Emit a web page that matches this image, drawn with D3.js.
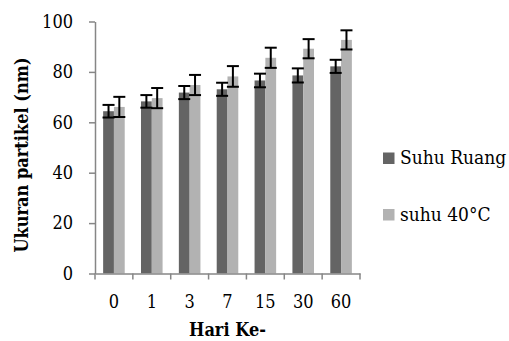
<!DOCTYPE html>
<meta charset="utf-8">
<script src="https://cdn.jsdelivr.net/npm/d3@7"></script>
<style>
  body { margin: 0; background: #fff; }
  text { font-family: "DejaVu Serif Condensed", "DejaVu Serif", serif; font-stretch: condensed; fill: #000; }
</style>
<div id="chart"></div>
<script>
// data
const days = ["0", "1", "3", "7", "15", "30", "60"];
const seriesNames = ["Suhu Ruang", "suhu 40°C"];
const suhuRuang = [64.4, 68.3, 71.8, 73.1, 76.6, 78.6, 82.2];
const suhuRuangErr = [2.5, 2.5, 2.6, 2.6, 2.7, 2.8, 2.6];
const suhu40 = [66.1, 69.6, 74.8, 78.2, 85.6, 89.2, 92.7];
const suhu40Err = [4.0, 4.0, 4.0, 4.1, 4.0, 3.8, 3.8];
const yTicks = [0, 20, 40, 60, 80, 100];
const colors = ["#646464", "#b2b2b2"];

const width = 509, height = 341;
const plotLeft = 95, plotRight = 360, plotTop = 21.5, plotBottom = 273.5;

const svg = d3.select("#chart").append("svg")
  .attr("width", width)
  .attr("height", height);

const y = d3.scaleLinear().domain([0, 100]).range([plotBottom, plotTop]);
const x0 = d3.scaleBand().domain(days).range([plotLeft, plotRight])
  .paddingInner(0.43).paddingOuter(0.215);
const x1 = d3.scaleBand().domain(seriesNames).range([0, x0.bandwidth()]);

const rows = days.map((d, i) => ({
  day: d,
  vals: [
    {s: seriesNames[0], v: suhuRuang[i], e: suhuRuangErr[i], c: colors[0]},
    {s: seriesNames[1], v: suhu40[i], e: suhu40Err[i], c: colors[1]}
  ]
}));

// bars
const groups = svg.append("g").selectAll("g").data(rows).join("g")
  .attr("transform", d => `translate(${x0(d.day)},0)`);

groups.selectAll("rect").data(d => d.vals).join("rect")
  .attr("x", d => x1(d.s))
  .attr("y", d => y(d.v))
  .attr("width", x1.bandwidth())
  .attr("height", d => y(0) - y(d.v))
  .attr("fill", d => d.c);

// error bars
const eb = groups.selectAll("g.err").data(d => d.vals).join("g")
  .attr("class", "err")
  .attr("stroke", "#000")
  .attr("stroke-width", 2);
const cx = d => x1(d.s) + x1.bandwidth() / 2;
eb.append("line")
  .attr("x1", cx).attr("x2", cx)
  .attr("y1", d => y(d.v - d.e)).attr("y2", d => y(d.v + d.e));
eb.append("line")
  .attr("x1", d => cx(d) - 6).attr("x2", d => cx(d) + 6)
  .attr("y1", d => y(d.v + d.e)).attr("y2", d => y(d.v + d.e));
eb.append("line")
  .attr("x1", d => cx(d) - 6).attr("x2", d => cx(d) + 6)
  .attr("y1", d => y(d.v - d.e)).attr("y2", d => y(d.v - d.e));

// y axis
const yAxis = svg.append("g")
  .attr("transform", `translate(${plotLeft},0)`)
  .call(d3.axisLeft(y).tickValues(yTicks).tickSize(6).tickPadding(16).tickSizeOuter(0));
yAxis.select(".domain").attr("stroke", "#868686").attr("stroke-width", 1.5);
yAxis.selectAll(".tick line").attr("stroke", "#868686").attr("stroke-width", 1.5);
yAxis.selectAll(".tick text")
  .style("font-size", "18px").attr("fill", "#000");

// x axis
const xAxis = svg.append("g")
  .attr("transform", `translate(0,${plotBottom})`)
  .call(d3.axisBottom(x0).tickSize(0).tickPadding(22));
xAxis.select(".domain").attr("stroke", "#868686").attr("stroke-width", 1.5);
xAxis.selectAll(".tick text")
  .style("font-size", "18px").attr("fill", "#000");
// category separators
const sep = x0.domain().map(d => x0(d) - x0.step() * x0.paddingInner() / 2).concat([plotRight]);
xAxis.selectAll("line.sep").data(sep).join("line")
  .attr("class", "sep")
  .attr("x1", d => d).attr("x2", d => d)
  .attr("y1", 0).attr("y2", 6)
  .attr("stroke", "#868686").attr("stroke-width", 1.5);
// d3 axis sets font-family on the group; drop it so the css one applies
yAxis.attr("font-family", null);
xAxis.attr("font-family", null);

// axis titles
svg.append("text")
  .attr("x", (plotLeft + plotRight) / 2)
  .attr("y", 336)
  .attr("text-anchor", "middle")
  .style("font-size", "18px").style("font-weight", "bold")
  .text("Hari Ke-");
svg.append("text")
  .attr("transform", "translate(28,155) rotate(-90)")
  .attr("text-anchor", "middle")
  .style("font-size", "18px").style("font-weight", "bold")
  .text("Ukuran partikel (nm)");

// legend
const legend = svg.append("g").selectAll("g").data(seriesNames).join("g")
  .attr("transform", (d, i) => `translate(383,${152.5 + i * 56.5})`);
legend.append("rect")
  .attr("width", 11.5).attr("height", 11.5)
  .attr("fill", (d, i) => colors[i]);
legend.append("text")
  .attr("x", 17).attr("y", 11.5)
  .style("font-size", "19px")
  .text(d => d);
</script>
